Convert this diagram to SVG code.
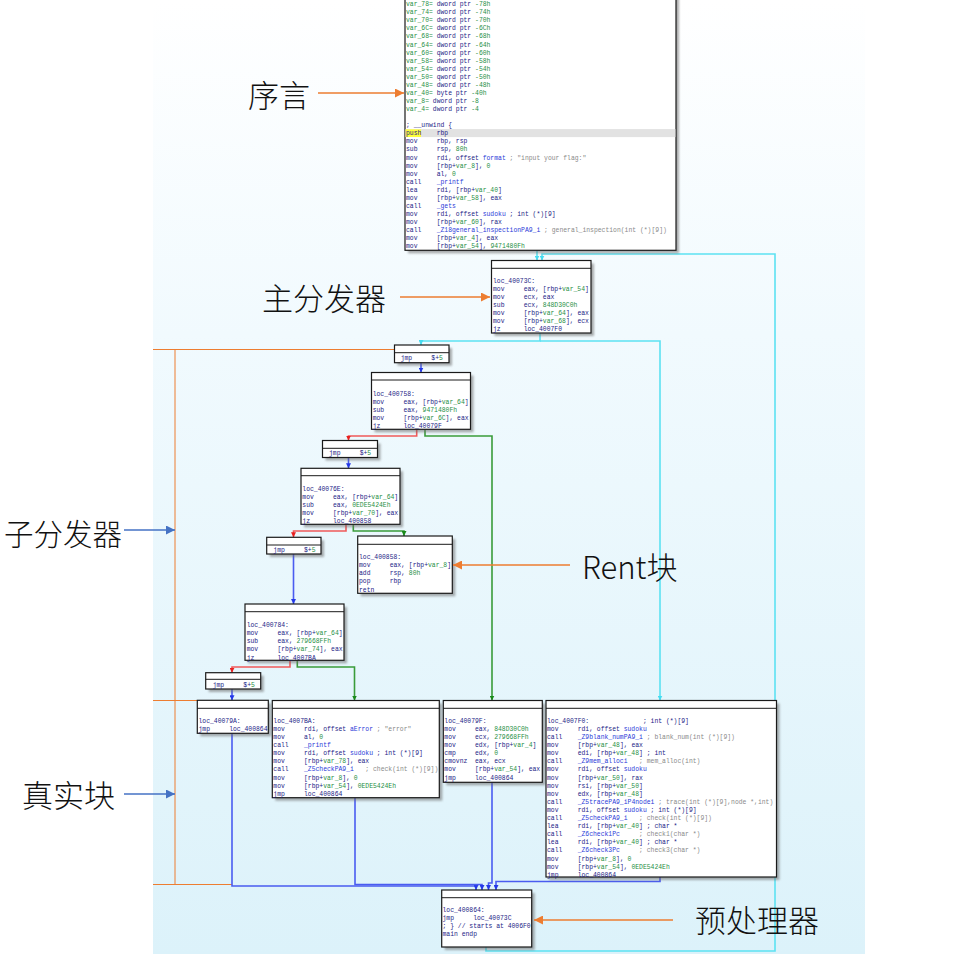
<svg xmlns="http://www.w3.org/2000/svg" width="963" height="954" viewBox="0 0 963 954">
<defs>
<linearGradient id="bg" x1="0" y1="0" x2="0" y2="1">
<stop offset="0" stop-color="#ffffff"/>
<stop offset="0.35" stop-color="#f1fafe"/>
<stop offset="1" stop-color="#dcf2fa"/>
</linearGradient>
<filter id="blur" x="-10%" y="-10%" width="120%" height="120%"><feGaussianBlur stdDeviation="1.1"/></filter>
<marker id="aC" viewBox="0 0 10 10" refX="10" refY="5" markerWidth="5" markerHeight="5" markerUnits="userSpaceOnUse" orient="auto"><path d="M0,0L10,5L0,10z" fill="#46dcf0"/></marker>
<marker id="aB" viewBox="0 0 10 10" refX="10" refY="5" markerWidth="5" markerHeight="5" markerUnits="userSpaceOnUse" orient="auto"><path d="M0,0L10,5L0,10z" fill="#2438e8"/></marker>
<marker id="aR" viewBox="0 0 10 10" refX="10" refY="5" markerWidth="5" markerHeight="5" markerUnits="userSpaceOnUse" orient="auto"><path d="M0,0L10,5L0,10z" fill="#e82020"/></marker>
<marker id="aG" viewBox="0 0 10 10" refX="10" refY="5" markerWidth="5" markerHeight="5" markerUnits="userSpaceOnUse" orient="auto"><path d="M0,0L10,5L0,10z" fill="#1a8a1a"/></marker>
<marker id="aO" viewBox="0 0 10 10" refX="10" refY="5" markerWidth="10" markerHeight="9" markerUnits="userSpaceOnUse" orient="auto"><path d="M0,0L10,5L0,10z" fill="#ed7d31"/></marker>
<marker id="aL" viewBox="0 0 10 10" refX="10" refY="5" markerWidth="10" markerHeight="9" markerUnits="userSpaceOnUse" orient="auto"><path d="M0,0L10,5L0,10z" fill="#4472c4"/></marker>
</defs>
<style>
.sh{fill:#6a6a6a;opacity:.55;filter:url(#blur)}
.bd{fill:#fff;stroke:#1a1a1a;stroke-width:1.2}
.hd{stroke:#1a1a1a;stroke-width:1}
.code{font-family:"Liberation Mono","DejaVu Sans Mono",monospace;font-size:6.4px;fill:#1c1c86;white-space:pre}
.code text{white-space:pre}
.g{fill:#1f8f45}
.n{fill:#2a3ad8}
.c{fill:#8a8a8a}
.e{fill:none;stroke-width:1.6}
.ec{stroke:#5ce2f2;marker-end:url(#aC)}
.eb{stroke:#4a5cf0;marker-end:url(#aB)}
.er{stroke:#f05a5a;marker-end:url(#aR)}
.eg{stroke:#3a9c3a;marker-end:url(#aG)}
.ol{stroke:#ed7d31;stroke-width:1;fill:none}
.oa{stroke:#ed7d31;stroke-width:1.3;fill:none;marker-end:url(#aO)}
.ba{stroke:#4472c4;stroke-width:1.3;fill:none;marker-end:url(#aL)}
.lbl{font-family:"Noto Sans CJK SC","Noto Sans",sans-serif;font-size:31px;font-weight:300;fill:#111}
</style>
<rect x="153" y="0" width="712" height="954" fill="url(#bg)"/>

<g id="annotation-lines">
<path class="ol" d="M153,349.5H395M175,349.5V884.5M153,700.5H197M153,884.5H232"/>
</g>

<g id="edges">
<path class="e ec" d="M537,250.5V260.5"/>
<path class="e ec" d="M486,947V951H775V254H542V260.5"/>
<path class="e ec" d="M540,333V341H421V345"/>
<path class="e ec" d="M540,341H660V700.5"/>
<path class="e eb" d="M421,362.7V372.5"/>
<path class="e er" d="M416.7,429.3V436H348.5V440.5"/>
<path class="e eg" d="M425,429.3V436H492V700.5"/>
<path class="e eb" d="M348.5,457.5V468.3"/>
<path class="e er" d="M346,524.3V531H293.5V537.3"/>
<path class="e eg" d="M353.3,524.3V531H404V536"/>
<path class="e eb" d="M293.5,554V604"/>
<path class="e er" d="M290,660.3V667H232V672.7"/>
<path class="e eg" d="M297.3,660.3V667H354.5V700.5"/>
<path class="e eb" d="M232,689V700.3"/>
<path class="e eb" d="M232,733.3V886H476V890"/>
<path class="e eb" d="M355,797.7V884.5H482V890"/>
<path class="e eb" d="M492,782.3V883H488.5V890"/>
<path class="e eb" d="M660,877V881.5H496V890"/>
</g>

<g id="prologue">
<rect class="sh" x="408" y="-17" width="271" height="270.3"/>
<rect class="bd" x="405" y="-20" width="271" height="270.3"/>
<rect x="405.6" y="129.1" width="269.8" height="8" fill="#e2e2e2"/>
<rect x="405.6" y="129.3" width="15.4" height="7.7" fill="#ffff3c"/>
<g class="code" transform="translate(406,6.2)">
<text xml:space="preserve" y="0"><tspan class="g">var_78=</tspan> dword ptr <tspan class="g">-78h</tspan></text>
<text xml:space="preserve" y="8.07"><tspan class="g">var_74=</tspan> dword ptr <tspan class="g">-74h</tspan></text>
<text xml:space="preserve" y="16.14"><tspan class="g">var_70=</tspan> dword ptr <tspan class="g">-70h</tspan></text>
<text xml:space="preserve" y="24.21"><tspan class="g">var_6C=</tspan> dword ptr <tspan class="g">-6Ch</tspan></text>
<text xml:space="preserve" y="32.28"><tspan class="g">var_68=</tspan> dword ptr <tspan class="g">-68h</tspan></text>
<text xml:space="preserve" y="40.35"><tspan class="g">var_64=</tspan> dword ptr <tspan class="g">-64h</tspan></text>
<text xml:space="preserve" y="48.42"><tspan class="g">var_60=</tspan> qword ptr <tspan class="g">-60h</tspan></text>
<text xml:space="preserve" y="56.49"><tspan class="g">var_58=</tspan> dword ptr <tspan class="g">-58h</tspan></text>
<text xml:space="preserve" y="64.56"><tspan class="g">var_54=</tspan> dword ptr <tspan class="g">-54h</tspan></text>
<text xml:space="preserve" y="72.63"><tspan class="g">var_50=</tspan> qword ptr <tspan class="g">-50h</tspan></text>
<text xml:space="preserve" y="80.7"><tspan class="g">var_48=</tspan> dword ptr <tspan class="g">-48h</tspan></text>
<text xml:space="preserve" y="88.77"><tspan class="g">var_40=</tspan> byte ptr <tspan class="g">-40h</tspan></text>
<text xml:space="preserve" y="96.84"><tspan class="g">var_8=</tspan> dword ptr <tspan class="g">-8</tspan></text>
<text xml:space="preserve" y="104.91"><tspan class="g">var_4=</tspan> dword ptr <tspan class="g">-4</tspan></text>
<text xml:space="preserve" y="121.05">; __unwind {</text>
<text xml:space="preserve" y="129.12">push    rbp</text>
<text xml:space="preserve" y="137.19">mov     rbp, rsp</text>
<text xml:space="preserve" y="145.26">sub     rsp, <tspan class="g">80h</tspan></text>
<text xml:space="preserve" y="153.33">mov     rdi, offset <tspan class="n">format</tspan> <tspan class="c">; "input your flag:"</tspan></text>
<text xml:space="preserve" y="161.4">mov     [rbp+<tspan class="g">var_8</tspan>], <tspan class="g">0</tspan></text>
<text xml:space="preserve" y="169.47">mov     al, <tspan class="g">0</tspan></text>
<text xml:space="preserve" y="177.54">call    <tspan class="n">_printf</tspan></text>
<text xml:space="preserve" y="185.61">lea     rdi, [rbp+<tspan class="g">var_40</tspan>]</text>
<text xml:space="preserve" y="193.68">mov     [rbp+<tspan class="g">var_58</tspan>], eax</text>
<text xml:space="preserve" y="201.75">call    <tspan class="n">_gets</tspan></text>
<text xml:space="preserve" y="209.82">mov     rdi, offset <tspan class="n">sudoku</tspan> ; int (*)[9]</text>
<text xml:space="preserve" y="217.89">mov     [rbp+<tspan class="g">var_60</tspan>], rax</text>
<text xml:space="preserve" y="225.96">call    <tspan class="n">_Z18general_inspectionPA9_i</tspan> <tspan class="c">; general_inspection(int (*)[9])</tspan></text>
<text xml:space="preserve" y="234.03">mov     [rbp+<tspan class="g">var_4</tspan>], eax</text>
<text xml:space="preserve" y="242.1">mov     [rbp+<tspan class="g">var_54</tspan>], <tspan class="g">9471480Fh</tspan></text>
</g>
</g>

<g id="main-dispatcher">
<rect class="sh" x="494.5" y="263.5" width="99.5" height="72.5"/>
<rect class="bd" x="491.5" y="260.5" width="99.5" height="72.5"/>
<line class="hd" x1="491.5" y1="268.3" x2="591" y2="268.3"/>
<g class="code" transform="translate(493,282.9)">
<text xml:space="preserve" y="0">loc_40073C:</text>
<text xml:space="preserve" y="8.1">mov     eax, [rbp+<tspan class="g">var_54</tspan>]</text>
<text xml:space="preserve" y="16.2">mov     ecx, eax</text>
<text xml:space="preserve" y="24.3">sub     ecx, <tspan class="g">848D30C0h</tspan></text>
<text xml:space="preserve" y="32.4">mov     [rbp+<tspan class="g">var_64</tspan>], eax</text>
<text xml:space="preserve" y="40.5">mov     [rbp+<tspan class="g">var_68</tspan>], ecx</text>
<text xml:space="preserve" y="48.6">jz      loc_4007F0</text>
</g>
</g>

<g id="jmp-1">
<rect class="sh" x="397.5" y="348" width="54.5" height="17.7"/>
<rect class="bd" x="394.5" y="345" width="54.5" height="17.7"/>
<line class="hd" x1="394.5" y1="352.7" x2="449" y2="352.7"/>
<text class="code" x="400.7" y="360.2" xml:space="preserve">jmp     $+<tspan class="g">5</tspan></text>
</g>

<g id="loc-400758">
<rect class="sh" x="374.5" y="375.5" width="99" height="56.8"/>
<rect class="bd" x="371.5" y="372.5" width="99" height="56.8"/>
<line class="hd" x1="371.5" y1="380" x2="470.5" y2="380"/>
<g class="code" transform="translate(372.7,395.5)">
<text xml:space="preserve" y="0">loc_400758:</text>
<text xml:space="preserve" y="8.1">mov     eax, [rbp+<tspan class="g">var_64</tspan>]</text>
<text xml:space="preserve" y="16.2">sub     eax, <tspan class="g">9471480Fh</tspan></text>
<text xml:space="preserve" y="24.3">mov     [rbp+<tspan class="g">var_6C</tspan>], eax</text>
<text xml:space="preserve" y="32.4">jz      loc_40079F</text>
</g>
</g>

<g id="jmp-2">
<rect class="sh" x="325.5" y="443.5" width="55" height="17"/>
<rect class="bd" x="322.5" y="440.5" width="55" height="17"/>
<line class="hd" x1="322.5" y1="448.3" x2="377.5" y2="448.3"/>
<text class="code" x="329" y="454.5" xml:space="preserve">jmp     $+<tspan class="g">5</tspan></text>
</g>

<g id="loc-40076E">
<rect class="sh" x="304" y="471.3" width="99" height="56"/>
<rect class="bd" x="301" y="468.3" width="99" height="56"/>
<line class="hd" x1="301" y1="475.7" x2="400" y2="475.7"/>
<g class="code" transform="translate(302.3,490.5)">
<text xml:space="preserve" y="0">loc_40076E:</text>
<text xml:space="preserve" y="8.1">mov     eax, [rbp+<tspan class="g">var_64</tspan>]</text>
<text xml:space="preserve" y="16.2">sub     eax, <tspan class="g">0EDE5424Eh</tspan></text>
<text xml:space="preserve" y="24.3">mov     [rbp+<tspan class="g">var_70</tspan>], eax</text>
<text xml:space="preserve" y="32.4">jz      loc_400858</text>
</g>
</g>

<g id="jmp-3">
<rect class="sh" x="269.7" y="540.3" width="54.3" height="16.7"/>
<rect class="bd" x="266.7" y="537.3" width="54.3" height="16.7"/>
<line class="hd" x1="266.7" y1="545" x2="321" y2="545"/>
<text class="code" x="273.3" y="551.5" xml:space="preserve">jmp     $+<tspan class="g">5</tspan></text>
</g>

<g id="loc-400858">
<rect class="sh" x="360.7" y="539" width="94.6" height="57.3"/>
<rect class="bd" x="357.7" y="536" width="94.6" height="57.3"/>
<line class="hd" x1="357.7" y1="544.3" x2="452.3" y2="544.3"/>
<g class="code" transform="translate(359,559.2)">
<text xml:space="preserve" y="0">loc_400858:</text>
<text xml:space="preserve" y="8.1">mov     eax, [rbp+<tspan class="g">var_8</tspan>]</text>
<text xml:space="preserve" y="16.2">add     rsp, <tspan class="g">80h</tspan></text>
<text xml:space="preserve" y="24.3">pop     rbp</text>
<text xml:space="preserve" y="32.4">retn</text>
</g>
</g>

<g id="loc-400784">
<rect class="sh" x="248" y="607" width="99" height="56.3"/>
<rect class="bd" x="245" y="604" width="99" height="56.3"/>
<line class="hd" x1="245" y1="611.7" x2="344" y2="611.7"/>
<g class="code" transform="translate(246.7,627.2)">
<text xml:space="preserve" y="0">loc_400784:</text>
<text xml:space="preserve" y="8.1">mov     eax, [rbp+<tspan class="g">var_64</tspan>]</text>
<text xml:space="preserve" y="16.2">sub     eax, <tspan class="g">279668FFh</tspan></text>
<text xml:space="preserve" y="24.3">mov     [rbp+<tspan class="g">var_74</tspan>], eax</text>
<text xml:space="preserve" y="32.4">jz      loc_4007BA</text>
</g>
</g>

<g id="jmp-4">
<rect class="sh" x="208.7" y="675.7" width="55" height="16.3"/>
<rect class="bd" x="205.7" y="672.7" width="55" height="16.3"/>
<line class="hd" x1="205.7" y1="679.3" x2="260.7" y2="679.3"/>
<text class="code" x="212.7" y="687.2" xml:space="preserve">jmp     $+<tspan class="g">5</tspan></text>
</g>

<g id="loc-40079A">
<rect class="sh" x="200.3" y="703.3" width="71" height="33"/>
<rect class="bd" x="197.3" y="700.3" width="71" height="33"/>
<line class="hd" x1="197.3" y1="708.3" x2="268.3" y2="708.3"/>
<g class="code" transform="translate(198.5,722.9)">
<text xml:space="preserve" y="0">loc_40079A:</text>
<text xml:space="preserve" y="8.1">jmp     loc_400864</text>
</g>
</g>

<g id="loc-4007BA">
<rect class="sh" x="275.3" y="703.5" width="167" height="97.2"/>
<rect class="bd" x="272.3" y="700.5" width="167" height="97.2"/>
<line class="hd" x1="272.3" y1="708.3" x2="439.3" y2="708.3"/>
<g class="code" transform="translate(273.3,722.9)">
<text xml:space="preserve" y="0">loc_4007BA:</text>
<text xml:space="preserve" y="8.1">mov     rdi, offset <tspan class="n">aError</tspan> <tspan class="c">; "error"</tspan></text>
<text xml:space="preserve" y="16.2">mov     al, <tspan class="g">0</tspan></text>
<text xml:space="preserve" y="24.3">call    <tspan class="n">_printf</tspan></text>
<text xml:space="preserve" y="32.4">mov     rdi, offset <tspan class="n">sudoku</tspan> ; int (*)[9]</text>
<text xml:space="preserve" y="40.5">mov     [rbp+<tspan class="g">var_78</tspan>], eax</text>
<text xml:space="preserve" y="48.6">call    <tspan class="n">_Z5checkPA9_i</tspan>   <tspan class="c">; check(int (*)[9])</tspan></text>
<text xml:space="preserve" y="56.7">mov     [rbp+<tspan class="g">var_8</tspan>], <tspan class="g">0</tspan></text>
<text xml:space="preserve" y="64.8">mov     [rbp+<tspan class="g">var_54</tspan>], <tspan class="g">0EDE5424Eh</tspan></text>
<text xml:space="preserve" y="72.9">jmp     loc_400864</text>
</g>
</g>

<g id="loc-40079F">
<rect class="sh" x="446.3" y="703.5" width="99" height="81.8"/>
<rect class="bd" x="443.3" y="700.5" width="99" height="81.8"/>
<line class="hd" x1="443.3" y1="708.3" x2="542.3" y2="708.3"/>
<g class="code" transform="translate(444.3,722.9)">
<text xml:space="preserve" y="0">loc_40079F:</text>
<text xml:space="preserve" y="8.1">mov     eax, <tspan class="g">848D30C0h</tspan></text>
<text xml:space="preserve" y="16.2">mov     ecx, <tspan class="g">279668FFh</tspan></text>
<text xml:space="preserve" y="24.3">mov     edx, [rbp+<tspan class="g">var_4</tspan>]</text>
<text xml:space="preserve" y="32.4">cmp     edx, <tspan class="g">0</tspan></text>
<text xml:space="preserve" y="40.5">cmovnz  eax, ecx</text>
<text xml:space="preserve" y="48.6">mov     [rbp+<tspan class="g">var_54</tspan>], eax</text>
<text xml:space="preserve" y="56.7">jmp     loc_400864</text>
</g>
</g>

<g id="loc-4007F0">
<rect class="sh" x="549" y="703.5" width="230.5" height="176.5"/>
<rect class="bd" x="546" y="700.5" width="230.5" height="176.5"/>
<line class="hd" x1="546" y1="708.3" x2="776.5" y2="708.3"/>
<g class="code" transform="translate(547,722.9)">
<text xml:space="preserve" y="0">loc_4007F0:              ; int (*)[9]</text>
<text xml:space="preserve" y="8.1">mov     rdi, offset <tspan class="n">sudoku</tspan></text>
<text xml:space="preserve" y="16.2">call    <tspan class="n">_Z9blank_numPA9_i</tspan> <tspan class="c">; blank_num(int (*)[9])</tspan></text>
<text xml:space="preserve" y="24.3">mov     [rbp+<tspan class="g">var_48</tspan>], eax</text>
<text xml:space="preserve" y="32.4">mov     edi, [rbp+<tspan class="g">var_48</tspan>] ; int</text>
<text xml:space="preserve" y="40.5">call    <tspan class="n">_Z9mem_alloci</tspan>   <tspan class="c">; mem_alloc(int)</tspan></text>
<text xml:space="preserve" y="48.6">mov     rdi, offset <tspan class="n">sudoku</tspan></text>
<text xml:space="preserve" y="56.7">mov     [rbp+<tspan class="g">var_50</tspan>], rax</text>
<text xml:space="preserve" y="64.8">mov     rsi, [rbp+<tspan class="g">var_50</tspan>]</text>
<text xml:space="preserve" y="72.9">mov     edx, [rbp+<tspan class="g">var_48</tspan>]</text>
<text xml:space="preserve" y="81">call    <tspan class="n">_Z5tracePA9_iP4nodei</tspan> <tspan class="c">; trace(int (*)[9],node *,int)</tspan></text>
<text xml:space="preserve" y="89.1">mov     rdi, offset <tspan class="n">sudoku</tspan> ; int (*)[9]</text>
<text xml:space="preserve" y="97.2">call    <tspan class="n">_Z5checkPA9_i</tspan>   <tspan class="c">; check(int (*)[9])</tspan></text>
<text xml:space="preserve" y="105.3">lea     rdi, [rbp+<tspan class="g">var_40</tspan>] ; char *</text>
<text xml:space="preserve" y="113.4">call    <tspan class="n">_Z6check1Pc</tspan>     <tspan class="c">; check1(char *)</tspan></text>
<text xml:space="preserve" y="121.5">lea     rdi, [rbp+<tspan class="g">var_40</tspan>] ; char *</text>
<text xml:space="preserve" y="129.6">call    <tspan class="n">_Z6check3Pc</tspan>     <tspan class="c">; check3(char *)</tspan></text>
<text xml:space="preserve" y="137.7">mov     [rbp+<tspan class="g">var_8</tspan>], <tspan class="g">0</tspan></text>
<text xml:space="preserve" y="145.8">mov     [rbp+<tspan class="g">var_54</tspan>], <tspan class="g">0EDE5424Eh</tspan></text>
<text xml:space="preserve" y="153.9">jmp     loc_400864</text>
</g>
</g>

<g id="loc-400864">
<rect class="sh" x="444.7" y="893" width="90" height="57"/>
<rect class="bd" x="441.7" y="890" width="90" height="57"/>
<line class="hd" x1="441.7" y1="897.7" x2="531.7" y2="897.7"/>
<g class="code" transform="translate(442.5,912.2)">
<text xml:space="preserve" y="0">loc_400864:</text>
<text xml:space="preserve" y="8.1">jmp     loc_40073C</text>
<text xml:space="preserve" y="16.2">; } // starts at 4006F0</text>
<text xml:space="preserve" y="24.3">main endp</text>
</g>
</g>

<g id="labels">
<text class="lbl" x="248" y="107">序言</text>
<path class="oa" d="M318,93H404"/>
<text class="lbl" x="262" y="310">主分发器</text>
<path class="oa" d="M400,297H490"/>
<text class="lbl" x="122" y="545" text-anchor="end" style="font-size:29.5px">子分发器</text>
<path class="ba" d="M124,530H175"/>
<text class="lbl" x="582" y="579">Rent块</text>
<path class="oa" d="M570,565H453"/>
<text class="lbl" x="22" y="807">真实块</text>
<path class="ba" d="M124,794H175"/>
<text class="lbl" x="695" y="932">预处理器</text>
<path class="oa" d="M673,920H534"/>
</g>
</svg>
